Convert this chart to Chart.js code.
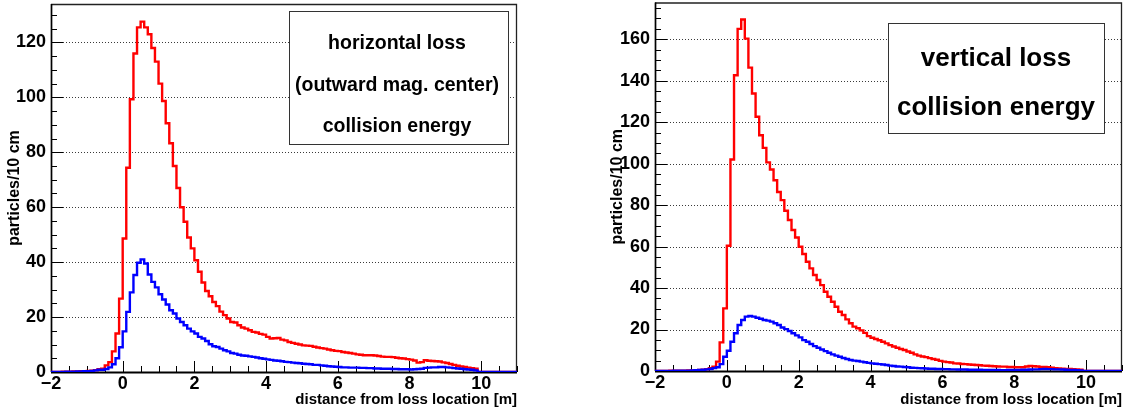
<!DOCTYPE html>
<html>
<head>
<meta charset="utf-8">
<script src="https://cdn.jsdelivr.net/npm/chart.js@4.4.0/dist/chart.umd.min.js"></script>
<style>
  html, body { margin: 0; padding: 0; background: #fff; }
  body { width: 1135px; height: 414px; position: relative; overflow: hidden; }
  .panel { position: absolute; top: 0; height: 414px; }
  #hPanel { left: 0; width: 560px; }
  #vPanel { left: 600px; width: 535px; }
</style>
</head>
<body>
<div class="panel" id="hPanel"><canvas id="hCanvas" width="560" height="414"></canvas></div>
<div class="panel" id="vPanel"><canvas id="vCanvas" width="535" height="414"></canvas></div>
<script>
// Histogram binning: 10 cm bins from -2 m to 11 m
const BIN_START = -2.0;
const BIN_WIDTH = 0.1;
const X_MIN = -2;
const X_MAX = 11;

// Tick labels
const X_TICK_LABELS = [-2, 0, 2, 4, 6, 8, 10];
const H_Y_TICK_LABELS = [0, 20, 40, 60, 80, 100, 120];
const V_Y_TICK_LABELS = [0, 20, 40, 60, 80, 100, 120, 140, 160];

// Horizontal loss: particles per 10 cm bin
const hRed = [
  0, 0, 0, 0, 0.1, 0.1, 0.1, 0.2, 0.2, 0.3,
  0.3, 0.4, 0.5, 0.7, 1.0, 1.2, 2.4, 3.6, 7.5, 14.0,
  26.7, 48.6, 74.4, 99.3, 116.0, 125.5, 127.6, 125.5, 123.0, 118.0,
  113.0, 105.0, 98.7, 90.6, 83.3, 75.0, 67.0, 60.0, 54.7, 49.0,
  45.0, 40.7, 36.5, 32.6, 29.5, 27.6, 25.5, 24.0, 22.0, 20.7,
  19.5, 18.2, 18.0, 17.0, 16.2, 15.8, 15.2, 14.6, 14.4, 13.9,
  13.6, 12.8, 12.2, 12.3, 12.4, 11.8, 11.5, 10.9, 10.6, 10.3,
  10.0, 9.7, 9.6, 9.5, 9.2, 8.9, 8.7, 8.5, 8.2, 7.9,
  7.7, 7.6, 7.3, 7.1, 6.9, 6.7, 6.4, 6.3, 6.1, 6.1,
  6.1, 6.0, 5.8, 5.6, 5.5, 5.5, 5.4, 5.2, 5.0, 4.9,
  4.7, 4.5, 4.2, 3.4, 3.6, 4.3, 4.1, 4.0, 3.9, 3.8,
  3.5, 3.3, 2.9, 2.6, 2.3, 2.0, 1.8, 1.6, 1.4, 1.2,
  0, 0, 0, 0, 0, 0, 0, 0, 0, 0
];
const hBlue = [
  0, 0, 0, 0, 0, 0.1, 0.1, 0.1, 0.2, 0.2,
  0.3, 0.3, 0.4, 0.6, 0.8, 0.8, 1.1, 1.7, 2.8, 5.0,
  9.0, 14.8, 21.9, 29.0, 35.3, 39.8, 41.0, 39.5, 35.5, 32.8,
  30.8, 28.3, 26.4, 24.6, 22.5, 21.3, 19.5, 18.2, 17.0, 15.8,
  14.8, 14.0, 12.8, 12.2, 11.3, 10.1, 9.4, 9.1, 8.5, 7.9,
  7.5, 6.9, 6.7, 6.3, 6.0, 5.9, 5.7, 5.5, 5.3, 5.0,
  4.8, 4.6, 4.4, 4.2, 4.1, 3.9, 3.7, 3.6, 3.4, 3.3,
  3.2, 3.0, 2.9, 2.8, 2.6, 2.6, 2.4, 2.3, 2.1, 2.0,
  1.9, 1.8, 1.7, 1.7, 1.6, 1.6, 1.6, 1.5, 1.5, 1.4,
  1.4, 1.3, 1.3, 1.2, 1.2, 1.2, 1.1, 1.1, 1.0, 1.0,
  1.0, 0.9, 1.0, 1.1, 1.2, 1.5, 1.6, 1.7, 1.7, 1.8,
  1.8, 1.7, 1.6, 1.4, 1.3, 1.2, 1.0, 0.9, 0.8, 0.6,
  0, 0, 0, 0, 0, 0, 0, 0, 0, 0
];

// Vertical loss: particles per 10 cm bin
const vRed = [
  0, 0, 0, 0, 0, 0.1, 0.1, 0.1, 0.2, 0.2,
  0.3, 0.3, 0.4, 0.5, 0.6, 0.9, 1.3, 2.1, 4.5, 13.8,
  30.2, 60.4, 102.0, 142.6, 165.0, 169.5, 160.3, 146.3, 133.8, 122.6,
  113.7, 107.6, 100.6, 97.2, 92.0, 86.3, 82.4, 77.3, 72.8, 68.0,
  64.4, 59.9, 56.4, 52.7, 49.5, 46.3, 43.9, 41.4, 38.2, 35.8,
  33.4, 31.0, 28.6, 27.0, 24.9, 23.0, 21.4, 20.6, 19.6, 18.4,
  16.8, 16.0, 15.4, 14.8, 14.1, 13.3, 12.5, 11.8, 11.2, 10.6,
  10.1, 9.4, 8.8, 8.0, 7.4, 7.0, 6.7, 6.2, 5.8, 5.4,
  4.9, 4.5, 4.3, 4.1, 3.7, 3.6, 3.4, 3.3, 3.1, 3.0,
  2.9, 2.8, 2.6, 2.5, 2.4, 2.3, 2.2, 2.1, 2.1, 1.9,
  1.9, 1.8, 1.8, 1.8, 2.2, 2.4, 2.3, 2.2, 2.0, 1.9,
  1.8, 1.6, 1.4, 1.2, 1.1, 1.0, 1.0, 0.9, 0.8, 0.6,
  0, 0, 0, 0, 0, 0, 0, 0, 0, 0
];
const vBlue = [
  0, 0, 0, 0, 0, 0, 0.1, 0.1, 0.1, 0.2,
  0.2, 0.3, 0.4, 0.5, 0.6, 0.8, 1.0, 1.4, 1.8, 3.3,
  6.9, 9.8, 14.1, 18.2, 22.2, 24.6, 26.2, 26.5, 26.2, 25.7,
  25.2, 24.6, 24.3, 23.8, 23.0, 22.2, 21.0, 20.2, 19.3, 18.2,
  17.2, 16.2, 14.9, 14.1, 13.0, 12.0, 11.2, 10.4, 9.6, 8.8,
  8.0, 7.4, 6.9, 6.3, 5.8, 5.3, 5.0, 4.8, 4.5, 4.2,
  3.9, 3.7, 3.5, 3.3, 3.1, 2.9, 2.6, 2.4, 2.2, 2.1,
  1.9, 1.8, 1.6, 1.5, 1.4, 1.3, 1.2, 1.1, 1.1, 1.0,
  1.0, 0.9, 0.9, 0.8, 0.8, 0.7, 0.7, 0.7, 0.6, 0.6,
  0.6, 0.6, 0.5, 0.5, 0.5, 0.5, 0.5, 0.4, 0.4, 0.5,
  0.5, 0.5, 0.5, 0.6, 0.6, 0.7, 0.8, 0.8, 0.9, 1.0,
  0.9, 0.9, 0.8, 0.8, 0.7, 0.6, 0.5, 0.5, 0.4, 0.3,
  0, 0, 0, 0, 0, 0, 0, 0, 0, 0
];

// Caption lines in the boxes
const hCaption = ['horizontal loss', '(outward mag. center)', 'collision energy'];
const vCaption = ['vertical loss', 'collision energy'];

const X_TITLE = 'distance from loss location [m]';
const Y_TITLE = 'particles/10 cm';

const FONT = "'Liberation Sans', Arial, Helvetica, sans-serif";

// Convert bin contents into step points at the bin edges
function histPoints(vals) {
  const pts = vals.map((v, i) => ({ x: +(BIN_START + i * BIN_WIDTH).toFixed(2), y: v }));
  pts.push({ x: X_MAX, y: vals[vals.length - 1] });
  return pts;
}

function fmtTick(v) {
  return v < 0 ? '\u2212' + Math.abs(v) : String(v);
}

// Frame, dotted grid, inner tick marks and the caption box
const histFrame = {
  id: 'histFrame',
  beforeDatasetsDraw(chart, args, opts) {
    const { ctx, chartArea: a, scales: { x, y } } = chart;
    ctx.save();
    // dotted grid at labelled values
    ctx.strokeStyle = '#3a3a3a';
    ctx.lineWidth = 1;
    ctx.setLineDash([1, 2]);
    opts.yLabels.forEach(v => {
      if (v <= 0) return;
      const py = Math.round(y.getPixelForValue(v)) + 0.5;
      ctx.beginPath();
      ctx.moveTo(a.left, py);
      ctx.lineTo(a.right, py);
      ctx.stroke();
    });
    ctx.setLineDash([]);

    // top and right frame
    ctx.strokeStyle = '#222';
    ctx.lineWidth = 1.3;
    ctx.beginPath();
    ctx.moveTo(a.left, a.top + 0.5);
    ctx.lineTo(a.right - 0.5, a.top + 0.5);
    ctx.lineTo(a.right - 0.5, a.bottom);
    ctx.stroke();

    // y tick marks pointing inwards
    ctx.strokeStyle = '#000';
    ctx.lineWidth = 1;
    for (let v = 0; v <= y.max + 1e-9; v += opts.yMinor) {
      const py = Math.round(y.getPixelForValue(v)) + 0.5;
      const len = (Math.abs(v % opts.yMajor) < 1e-9) ? 12 : 6;
      ctx.beginPath();
      ctx.moveTo(a.left, py);
      ctx.lineTo(a.left + len, py);
      ctx.stroke();
    }
    // x tick marks pointing upwards
    for (let v = X_MIN; v <= X_MAX + 1e-9; v += 0.5) {
      const px = Math.round(x.getPixelForValue(v)) + 0.5;
      const len = (Math.abs(v % 2) < 1e-9) ? 11 : 6;
      ctx.beginPath();
      ctx.moveTo(px, a.bottom);
      ctx.lineTo(px, a.bottom - len);
      ctx.stroke();
    }

    // left and bottom axis lines
    ctx.strokeStyle = '#000';
    ctx.lineWidth = 1.7;
    ctx.beginPath();
    ctx.moveTo(a.left + 0.5, a.top);
    ctx.lineTo(a.left + 0.5, a.bottom);
    ctx.stroke();
    ctx.lineWidth = 2.2;
    ctx.beginPath();
    ctx.moveTo(a.left, a.bottom + 0.5);
    ctx.lineTo(a.right, a.bottom + 0.5);
    ctx.stroke();
    ctx.restore();
  },
  afterDatasetsDraw(chart, args, opts) {
    const { ctx } = chart;
    const b = opts.box;
    ctx.save();
    ctx.fillStyle = '#fff';
    ctx.fillRect(b.x, b.y, b.w, b.h);
    ctx.strokeStyle = '#333';
    ctx.lineWidth = 1;
    ctx.strokeRect(Math.round(b.x) + 0.5, Math.round(b.y) + 0.5, Math.round(b.w), Math.round(b.h));
    ctx.fillStyle = '#000';
    ctx.font = 'bold ' + b.fontSize + 'px ' + FONT;
    ctx.textAlign = 'center';
    ctx.textBaseline = 'alphabetic';
    opts.lines.forEach((t, i) => {
      ctx.save();
      ctx.translate(b.cx, b.baselines[i]);
      ctx.scale(b.squeeze, 1);
      ctx.fillText(t, 0, 0);
      ctx.restore();
    });
    ctx.restore();
  }
};

function makeChart(canvasId, cfg) {
  return new Chart(document.getElementById(canvasId), {
    type: 'line',
    data: {
      datasets: [
        { data: histPoints(cfg.blue), borderColor: '#0000ff', borderWidth: 2.4, stepped: 'after',
          pointRadius: 0, fill: false, tension: 0 },
        { data: histPoints(cfg.red), borderColor: '#ff0000', borderWidth: 2.4, stepped: 'after',
          pointRadius: 0, fill: false, tension: 0 }
      ]
    },
    options: {
      responsive: false,
      animation: false,
      devicePixelRatio: 1,
      events: [],
      layout: { padding: { top: cfg.padTop, right: cfg.padRight, left: 0, bottom: 0 } },
      plugins: {
        legend: { display: false },
        tooltip: { enabled: false },
        histFrame: { yLabels: cfg.yLabels, yMinor: 5, yMajor: 20, box: cfg.box, lines: cfg.lines }
      },
      scales: {
        x: {
          type: 'linear',
          min: X_MIN,
          max: X_MAX,
          grid: { display: false, drawTicks: false },
          border: { display: false },
          afterBuildTicks: s => { s.ticks = X_TICK_LABELS.map(v => ({ value: v })); },
          afterFit: s => {
            s.height = cfg.xAxisHeight;
            s.paddingLeft = 0; s.paddingRight = 0; s.paddingTop = 0; s.paddingBottom = 0;
          },
          ticks: {
            autoSkip: false, maxRotation: 0, padding: 1, color: '#000',
            font: { family: FONT, size: 18, weight: 'bold' },
            callback: fmtTick
          },
          title: {
            display: true, text: X_TITLE, align: 'end', color: '#000',
            font: { family: FONT, size: 15, weight: 'bold' },
            padding: { top: 0, bottom: 5 }
          }
        },
        y: {
          type: 'linear',
          min: 0,
          max: cfg.yMax,
          grid: { display: false, drawTicks: false },
          border: { display: false },
          afterBuildTicks: s => { s.ticks = cfg.yLabels.map(v => ({ value: v })); },
          afterFit: s => {
            s.width = cfg.yAxisWidth;
            s.paddingLeft = 0; s.paddingRight = 0; s.paddingTop = 0; s.paddingBottom = 0;
          },
          ticks: {
            padding: 5, color: '#000',
            font: { family: FONT, size: 18, weight: 'bold' },
            callback: fmtTick
          },
          title: {
            display: true, text: Y_TITLE, color: '#000',
            font: { family: FONT, size: 16, weight: 'bold' },
            padding: { top: cfg.yTitlePad, bottom: 0 }
          }
        }
      }
    },
    plugins: [histFrame]
  });
}

// horizontal loss panel
makeChart('hCanvas', {
  red: hRed, blue: hBlue, yLabels: H_Y_TICK_LABELS, yMax: 134,
  padTop: 4, padRight: 43, xAxisHeight: 42, yAxisWidth: 51, yTitlePad: 5,
  lines: hCaption,
  box: { x: 289, y: 11, w: 219, h: 133, cx: 397, baselines: [49, 91, 132], fontSize: 21, squeeze: 0.93 }
});

// vertical loss panel
makeChart('vCanvas', {
  red: vRed, blue: vBlue, yLabels: V_Y_TICK_LABELS, yMax: 177.7,
  padTop: 2.5, padRight: 13, xAxisHeight: 43, yAxisWidth: 55, yTitlePad: 8,
  lines: vCaption,
  box: { x: 288, y: 23, w: 216, h: 110, cx: 396, baselines: [66, 115], fontSize: 26, squeeze: 1 }
});
</script>
</body>
</html>
